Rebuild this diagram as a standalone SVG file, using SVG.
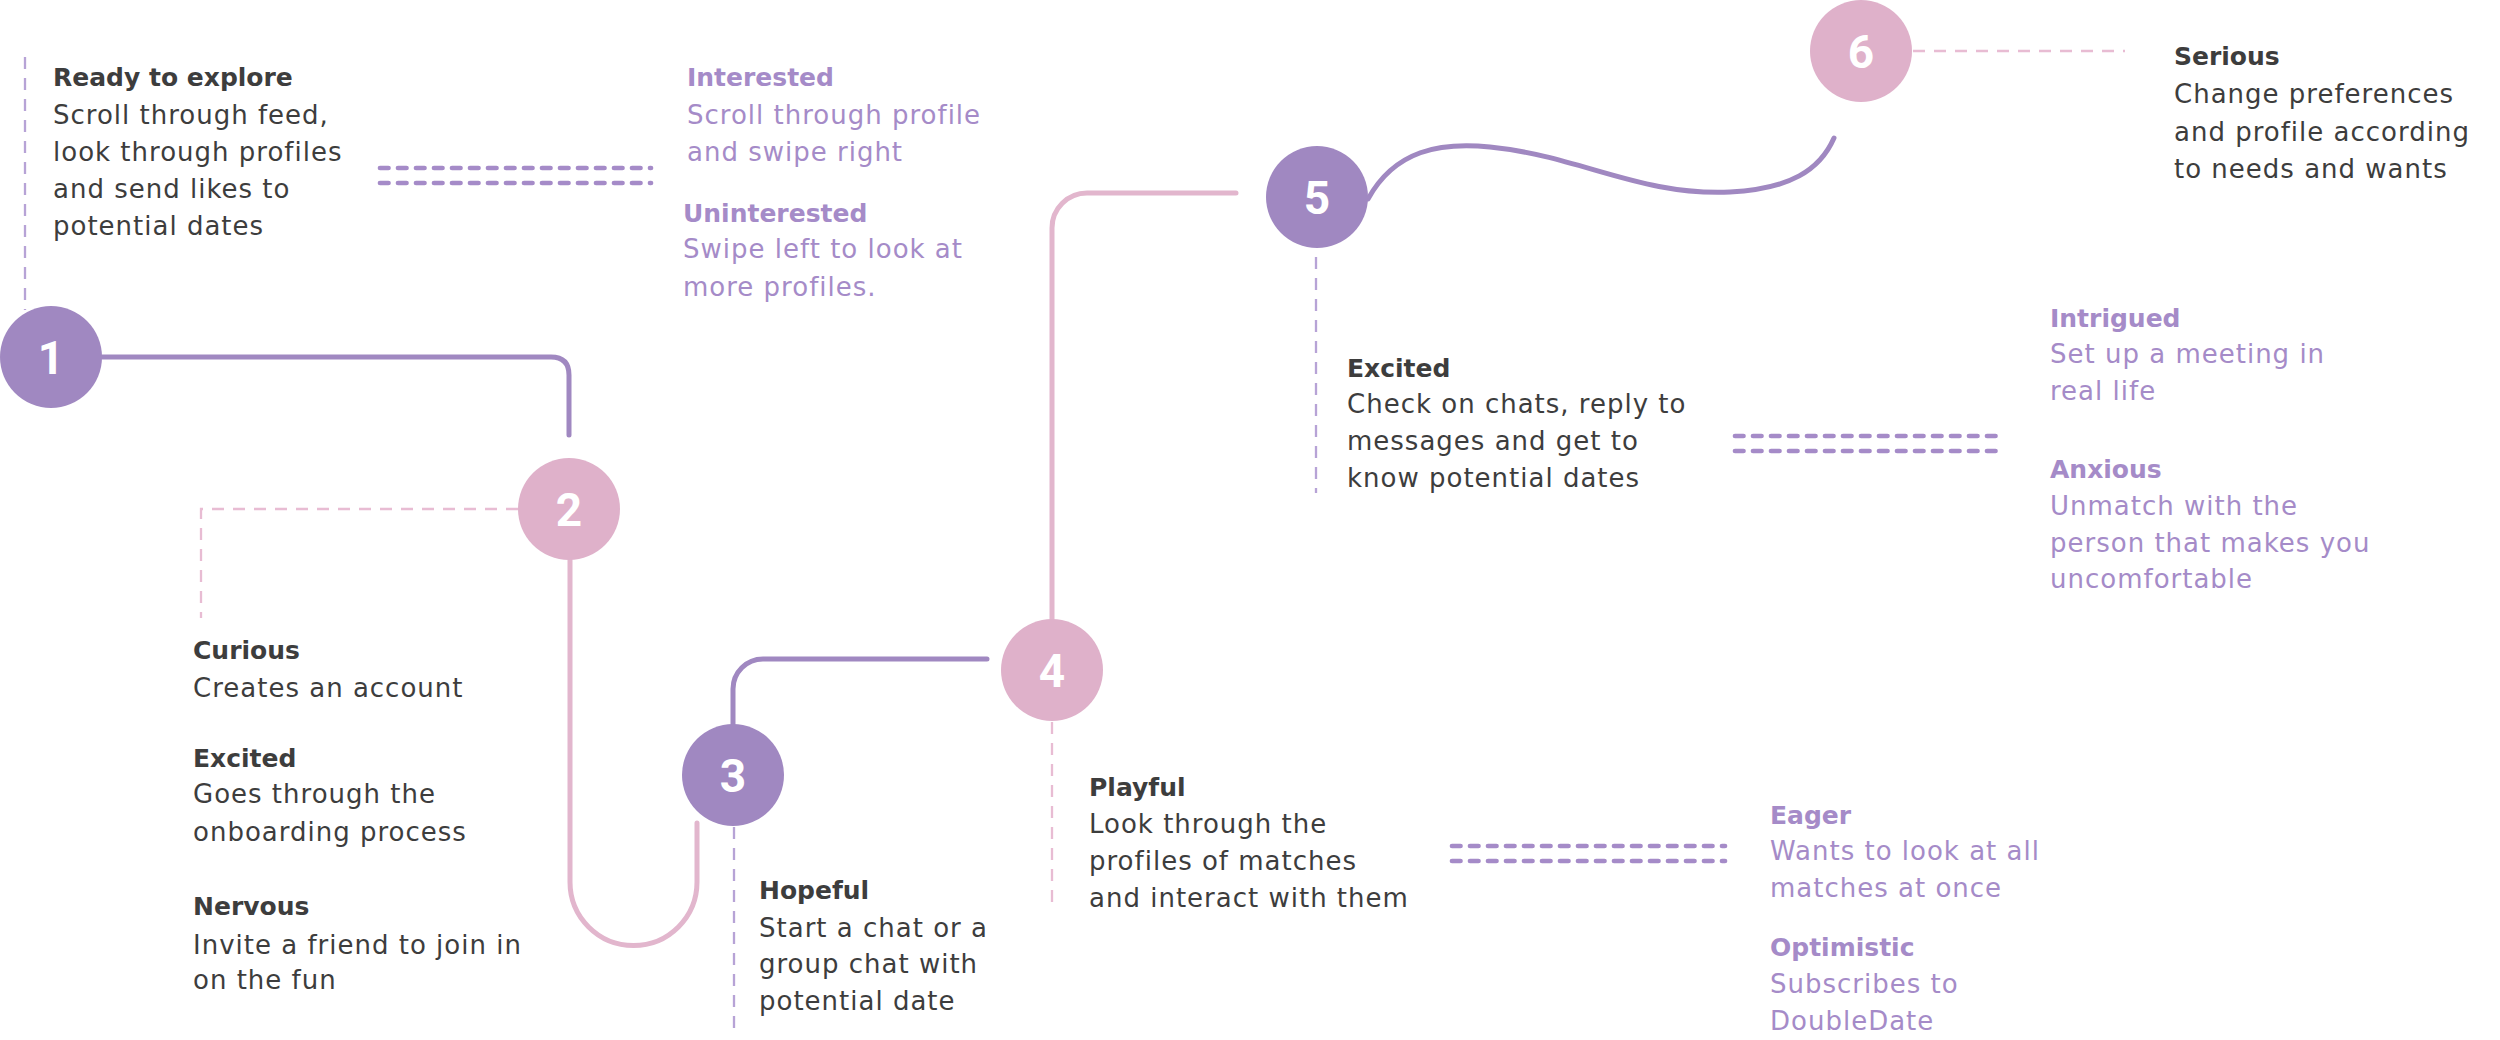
<svg xmlns="http://www.w3.org/2000/svg" width="2500" height="1040" viewBox="0 0 2500 1040">
<style>
.bg{fill:#ffffff}
.pc{fill:#a088c1}
.kc{fill:#dfb1ca}
.num{font-family:Roboto,"DejaVu Sans",sans-serif;font-weight:700;font-size:46px;fill:#ffffff;text-anchor:middle}
.lp{fill:none;stroke:#a088c1;stroke-width:5;stroke-linecap:round;stroke-linejoin:round}
.lk{fill:none;stroke:#e2b6cd;stroke-width:5;stroke-linecap:round;stroke-linejoin:round}
.dp{fill:none;stroke:#b7a3d6;stroke-width:2.3;stroke-dasharray:12 9}
.dk{fill:none;stroke:#e8bcd3;stroke-width:2.3;stroke-dasharray:12 9}
.dd{fill:none;stroke:#a58bc8;stroke-width:4.7;stroke-linecap:round;stroke-dasharray:8.5 9.5}
.t{font-family:"DejaVu Sans",sans-serif;font-size:26px;letter-spacing:1px}
.dark{fill:#3d3d3d}
.purp{fill:#a58bc8}
.b{font-weight:700;font-size:25px;letter-spacing:0px}
</style>
<rect class="bg" x="0" y="0" width="2500" height="1040"/>

<g id="connectors">
  <path class="lp" d="M102 357 H551 Q569 357 569 375 V435"/>
  <path class="lk" d="M570 560 V882 A63.5 63.5 0 0 0 697 882 V823"/>
  <path class="lp" d="M733 724 V689 A30 30 0 0 1 763 659 H987"/>
  <path class="lk" d="M1052 619 V228 A35 35 0 0 1 1087 193 H1236"/>
  <path class="lp" d="M1368 199 C1395 150 1440 142 1490 147 C1580 156 1640 196 1730 192 C1790 189 1820 170 1834 138"/>
</g>

<g id="node-1">
  <path class="dp" d="M25 57 V310"/>
  <circle class="pc" cx="51" cy="357" r="51"/>
  <text class="num" x="51" y="374">1</text>
  <text class="t dark" x="53">
    <tspan class="b" x="53" y="86">Ready to explore</tspan>
    <tspan x="53" y="124">Scroll through feed,</tspan>
    <tspan x="53" y="161">look through profiles</tspan>
    <tspan x="53" y="198">and send likes to</tspan>
    <tspan x="53" y="235">potential dates</tspan>
  </text>
  <path class="dd" d="M380 168 H651 M380 183 H651"/>
  <text class="t purp">
    <tspan class="b" x="687" y="86">Interested</tspan>
    <tspan x="687" y="124">Scroll through profile</tspan>
    <tspan x="687" y="161">and swipe right</tspan>
    <tspan class="b" x="683" y="222">Uninterested</tspan>
    <tspan x="683" y="258">Swipe left to look at</tspan>
    <tspan x="683" y="296">more profiles.</tspan>
  </text>
</g>

<g id="node-2">
  <path class="dk" d="M518 509 H201 V618"/>
  <circle class="kc" cx="569" cy="509" r="51"/>
  <text class="num" x="569" y="526">2</text>
  <text class="t dark">
    <tspan class="b" x="193" y="659">Curious</tspan>
    <tspan x="193" y="697">Creates an account</tspan>
    <tspan class="b" x="193" y="767">Excited</tspan>
    <tspan x="193" y="803">Goes through the</tspan>
    <tspan x="193" y="841">onboarding process</tspan>
    <tspan class="b" x="193" y="915">Nervous</tspan>
    <tspan x="193" y="954">Invite a friend to join in</tspan>
    <tspan x="193" y="989">on the fun</tspan>
  </text>
</g>

<g id="node-3">
  <path class="dp" d="M734 827 V1035"/>
  <circle class="pc" cx="733" cy="775" r="51"/>
  <text class="num" x="733" y="792">3</text>
  <text class="t dark">
    <tspan class="b" x="759" y="899">Hopeful</tspan>
    <tspan x="759" y="937">Start a chat or a</tspan>
    <tspan x="759" y="973">group chat with</tspan>
    <tspan x="759" y="1010">potential date</tspan>
  </text>
</g>

<g id="node-4">
  <path class="dk" d="M1052 722 V910"/>
  <circle class="kc" cx="1052" cy="670" r="51"/>
  <text class="num" x="1052" y="687">4</text>
  <text class="t dark">
    <tspan class="b" x="1089" y="796">Playful</tspan>
    <tspan x="1089" y="833">Look through the</tspan>
    <tspan x="1089" y="870">profiles of matches</tspan>
    <tspan x="1089" y="907">and interact with them</tspan>
  </text>
  <path class="dd" d="M1452 846 H1725 M1452 861 H1725"/>
  <text class="t purp">
    <tspan class="b" x="1770" y="824">Eager</tspan>
    <tspan x="1770" y="860">Wants to look at all</tspan>
    <tspan x="1770" y="897">matches at once</tspan>
    <tspan class="b" x="1770" y="956">Optimistic</tspan>
    <tspan x="1770" y="993">Subscribes to</tspan>
    <tspan x="1770" y="1030">DoubleDate</tspan>
  </text>
</g>

<g id="node-5">
  <path class="dp" d="M1316 257 V493"/>
  <circle class="pc" cx="1317" cy="197" r="51"/>
  <text class="num" x="1317" y="214">5</text>
  <text class="t dark">
    <tspan class="b" x="1347" y="377">Excited</tspan>
    <tspan x="1347" y="413">Check on chats, reply to</tspan>
    <tspan x="1347" y="450">messages and get to</tspan>
    <tspan x="1347" y="487">know potential dates</tspan>
  </text>
  <path class="dd" d="M1735 436 H2005 M1735 451 H2005"/>
  <text class="t purp">
    <tspan class="b" x="2050" y="327">Intrigued</tspan>
    <tspan x="2050" y="363">Set up a meeting in</tspan>
    <tspan x="2050" y="400">real life</tspan>
    <tspan class="b" x="2050" y="478">Anxious</tspan>
    <tspan x="2050" y="515">Unmatch with the</tspan>
    <tspan x="2050" y="552">person that makes you</tspan>
    <tspan x="2050" y="588">uncomfortable</tspan>
  </text>
</g>

<g id="node-6">
  <path class="dk" d="M1913 51 H2125"/>
  <circle class="kc" cx="1861" cy="51" r="51"/>
  <text class="num" x="1861" y="68">6</text>
  <text class="t dark">
    <tspan class="b" x="2174" y="65">Serious</tspan>
    <tspan x="2174" y="103">Change preferences</tspan>
    <tspan x="2174" y="141">and profile according</tspan>
    <tspan x="2174" y="178">to needs and wants</tspan>
  </text>
</g>
</svg>
